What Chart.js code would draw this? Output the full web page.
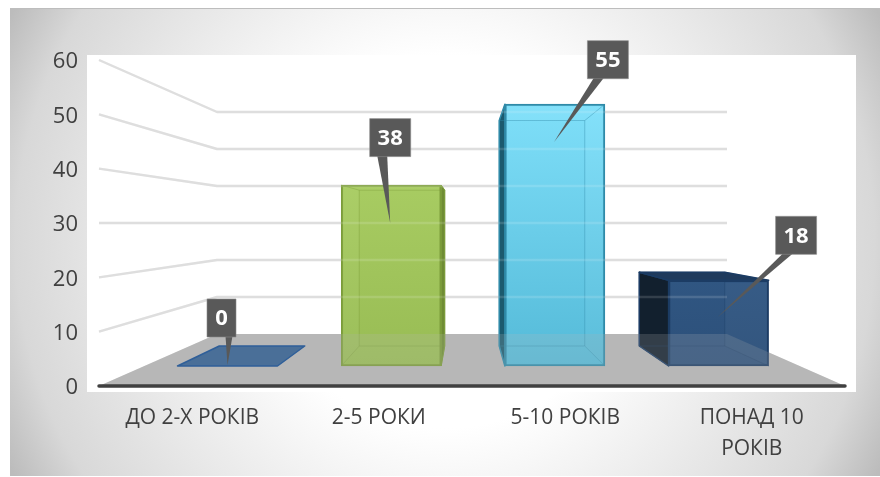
<!DOCTYPE html>
<html lang="uk">
<head>
<meta charset="utf-8">
<style>html,body{margin:0;padding:0;background:#fff}#w{position:relative;width:880px;height:477px}canvas{display:block}</style>
<script src="https://cdn.jsdelivr.net/npm/chart.js@4/dist/chart.umd.js"></script>
</head>
<body>
<div id="w"><canvas id="c" width="880" height="477"></canvas></div>
<script>
const categories = ["ДО 2-Х РОКІВ", "2-5 РОКИ", "5-10 РОКІВ", ["ПОНАД 10", "РОКІВ"]];
const values = [0, 38, 55, 18];
const axisTicks = [0, 10, 20, 30, 40, 50, 60];

// Perspective planes: each hidden axis spans the same chart area but has its own range
const plane = (zero, perUnit, top, bottom) => ({min: -(bottom - zero) / perUnit, max: (zero - top) / perUnit});
const T = 60, B = 386, L = 99, R = 845;
const yFrontFace = plane(366, 4.76, T, B);
const yBackFace = plane(346, 4.10, T, B);
const yWallPlane = plane(334, 3.70, T, B);
const hPlane = (zero, perUnit) => ({min: -(zero - L) / perUnit, max: (R - zero) / perUnit});
const xFrontFace = hPlane(227.5, 163.7);
const xBackFace = hPlane(262, 140);
const xWallPlane = hPlane(217, 510);

const looks = [
  {top: "#4a6f98", bot: "#4a6f98", edge: "#2f5f99", side: "#1d3550", lid: "#4a6f98"},
  {top: "rgba(168,204,98,.97)", bot: "rgba(152,188,84,.97)", edge: "#7b9c3a", side: "#6f8c35", lid: "#93b552"},
  {top: "rgba(128,224,250,.97)", bot: "rgba(84,186,216,.97)", edge: "#2f8aa8", side: "#1c5a6e", lid: "#5cc0dc"},
  {top: "rgba(48,86,130,.97)", bot: "rgba(44,80,122,.97)", edge: "#1c3c64", side: "#12202e", lid: "#1f3a5c"}
];
const callouts = [
  {dx: -6, dy: -48, baseA: 4, baseB: 11, tipDx: 0, tipDy: -1},
  {dx: -1, dy: -47.5, baseA: -13, baseB: -3, tipDx: -1, tipDy: 38},
  {dx: 53, dy: -44.5, baseA: -14, baseB: -4, tipDx: -1, tipDy: 38},
  {dx: 77.5, dy: -45, baseA: -13, baseB: -3, tipDx: -1, tipDy: 37}
];

function poly(ctx, pts, fill, stroke, lw) {
  ctx.beginPath();
  ctx.lineJoin = "round";
  pts.forEach((p, i) => i ? ctx.lineTo(p[0], p[1]) : ctx.moveTo(p[0], p[1]));
  ctx.closePath();
  if (fill) { ctx.fillStyle = fill; ctx.fill(); }
  if (stroke) { ctx.strokeStyle = stroke; ctx.lineWidth = lw || 1; ctx.stroke(); }
}
function gridLines(chart, color) {
  const ctx = chart.ctx, s = chart.scales, a = chart.chartArea;
  ctx.save(); ctx.strokeStyle = color; ctx.lineWidth = 2.4; ctx.lineJoin = "round";
  axisTicks.filter(v => v > 0).forEach(v => {
    ctx.beginPath();
    ctx.moveTo(a.left, s.y.getPixelForValue(v));
    ctx.lineTo(s.xWall.getPixelForValue(0), s.yWall.getPixelForValue(v));
    ctx.lineTo(s.xWall.getPixelForValue(1), s.yWall.getPixelForValue(v));
    ctx.stroke();
  });
  ctx.restore();
}
function floorPts(chart) {
  const s = chart.scales, a = chart.chartArea, y0 = s.y.getPixelForValue(0), yb = s.yWall.getPixelForValue(0);
  return [[a.left, y0], [s.xWall.getPixelForValue(0), yb], [s.xWall.getPixelForValue(1), yb], [a.right, y0]];
}
function boxGeom(chart, i) {
  const s = chart.scales, el = chart.getDatasetMeta(0).data[i], v = values[i];
  const hw = el.width / 2, bx = s.xBarBack.getPixelForValue(i), bhw = hw * 140 / 163.7;
  const by0 = s.yBarBack.getPixelForValue(0), byT = s.yBarBack.getPixelForValue(v);
  return {fl: el.x - hw, fr: el.x + hw, ft: el.y, fb: el.base, bl: bx - bhw, br: bx + bhw, bt: byT, bb: by0, x: el.x, y: el.y};
}

const scene = {
  id: "scene",
  beforeDraw(chart) {
    const ctx = chart.ctx;
    ctx.save();
    const g = ctx.createRadialGradient(445, 242, 0, 445, 242, 490);
    g.addColorStop(0, "#ffffff"); g.addColorStop(.38, "#ffffff"); g.addColorStop(.877, "#d8d8d8"); g.addColorStop(1, "#bcbcbc");
    ctx.fillStyle = g; ctx.fillRect(10, 8, 870, 468);
    ctx.fillStyle = "#bdbdbd"; ctx.fillRect(10, 8, 870, 1);
    ctx.fillStyle = "#ffffff"; ctx.fillRect(87, 55, 769, 337);
    ctx.restore();
  },
  beforeDatasetsDraw(chart) {
    const ctx = chart.ctx;
    ctx.save();
    gridLines(chart, "#d9d9d9");
    poly(ctx, floorPts(chart), "#b7b7b7");
    values.forEach((v, i) => {
      const q = boxGeom(chart, i), c = looks[i];
      if (v > 0) {
        poly(ctx, [[q.bl, q.bt], [q.br, q.bt], [q.br, q.bb], [q.bl, q.bb]], c.bot);
        poly(ctx, [[q.fl, q.fb], [q.fr, q.fb], [q.br, q.bb], [q.bl, q.bb]], c.bot);
        if (q.bl < q.fl) poly(ctx, [[q.bl, q.bt], [q.fl, q.ft], [q.fl, q.fb], [q.bl, q.bb]], c.side, c.edge, 1.5);
        if (q.br > q.fr) poly(ctx, [[q.fr, q.ft], [q.br, q.bt], [q.br, q.bb], [q.fr, q.fb]], c.side, c.edge, 1);
        if (q.bt < q.ft) poly(ctx, [[q.bl, q.bt], [q.br, q.bt], [q.fr, q.ft], [q.fl, q.ft]], c.lid, c.edge, 1.5);
      }
    });
    ctx.restore();
  },
  afterDatasetsDraw(chart) {
    const ctx = chart.ctx, s = chart.scales;
    ctx.save();
    values.forEach((v, i) => {
      const q = boxGeom(chart, i), c = looks[i];
      if (v > 0) {
        // inner edges seen through the glass faces
        ctx.globalAlpha = .4;
        poly(ctx, [[q.bl, q.bt], [q.br, q.bt], [q.br, q.bb], [q.bl, q.bb]], null, c.edge, 1);
        ctx.beginPath();
        [[q.fl, q.ft, q.bl, q.bt], [q.fr, q.ft, q.br, q.bt], [q.fl, q.fb, q.bl, q.bb], [q.fr, q.fb, q.br, q.bb]].forEach(e => {
          ctx.moveTo(e[0], e[1]); ctx.lineTo(e[2], e[3]);
        });
        ctx.strokeStyle = c.edge; ctx.lineWidth = 1; ctx.stroke();
        ctx.globalAlpha = 1;
      }
    });
    // floor and wall lines glimmering through the translucent columns
    ctx.globalAlpha = .2;
    poly(ctx, floorPts(chart), "#b7b7b7");
    ctx.globalAlpha = .14;
    gridLines(chart, "#ffffff");
    ctx.globalAlpha = 1;
    gridLines;
    // a zero-height column is only its flat lid on the floor
    values.forEach((v, i) => {
      if (v === 0) {
        const q = boxGeom(chart, i), c = looks[i];
        poly(ctx, [[q.fl, q.fb], [q.fr, q.fb], [q.br, q.bb], [q.bl, q.bb]], c.top, c.edge, 1.5);
      }
    });
    // front axis line
    const y0 = s.y.getPixelForValue(0);
    ctx.strokeStyle = "#404040"; ctx.lineWidth = 3.5; ctx.lineCap = "round";
    ctx.beginPath(); ctx.moveTo(chart.chartArea.left, y0); ctx.lineTo(chart.chartArea.right, y0); ctx.stroke();
    // callouts
    ctx.font = "bold 22px 'Open Sans'"; ctx.textAlign = "center"; ctx.textBaseline = "middle";
    values.forEach((v, i) => {
      const q = boxGeom(chart, i), k = callouts[i], t = String(v);
      const w = Math.round(ctx.measureText(t).width + 16), h = 38;
      const cx = q.x + k.dx, cy = q.y + k.dy;
      const bt = cy + h / 2;
      ctx.lineCap = "butt";
      poly(ctx, [[cx + k.baseA, bt - 1], [cx + k.baseB, bt - 1], [q.x + k.tipDx, q.y + k.tipDy]], "#595959");
      ctx.fillStyle = "#595959"; ctx.fillRect(cx - w / 2, cy - h / 2, w, h);
      ctx.strokeStyle = "#8c8c8c"; ctx.lineWidth = .6; ctx.strokeRect(cx - w / 2, cy - h / 2, w, h);
      ctx.fillStyle = "#ffffff"; ctx.fillText(t, cx, cy + 1);
    });
    ctx.restore();
  }
};

const hiddenLinear = (r) => ({type: "linear", display: false, offset: false, bounds: "data", min: r.min, max: r.max, grid: {display: false}});

new Chart(document.getElementById("c"), {
  type: "bar",
  data: {
    labels: categories,
    datasets: [{
      data: values.map((v, i) => ({x: i, y: v})),
      xAxisID: "xBarFront",
      yAxisID: "yBarFront",
      barThickness: 100,
      borderWidth: 2,
      borderSkipped: false,
      borderColor: ctx => looks[ctx.dataIndex].edge,
      backgroundColor: ctx => {
        const a = ctx.chart.chartArea, c = looks[ctx.dataIndex];
        if (!a) return c.top;
        const q = ctx.chart.scales.yBarFront;
        const g = ctx.chart.ctx.createLinearGradient(0, q.getPixelForValue(values[ctx.dataIndex]), 0, q.getPixelForValue(0));
        g.addColorStop(0, c.top); g.addColorStop(1, c.bot);
        return g;
      }
    }]
  },
  options: {
    responsive: false,
    animation: false,
    events: [],
    layout: {padding: {left: 0, right: 35, top: 60, bottom: 0}},
    plugins: {legend: {display: false}, tooltip: {enabled: false}},
    scales: {
      x: {
        type: "category", labels: categories, offset: true, position: "bottom",
        grid: {display: false, drawTicks: false}, border: {display: false},
        afterFit: s => { s.height = 91; },
        ticks: {color: "#404040", font: {family: "'Open Sans'", size: 21, lineHeight: 1.45}, padding: 17, maxRotation: 0, autoSkip: false}
      },
      y: {
        type: "linear", min: 0, max: 60, position: "left",
        grid: {display: false, drawTicks: false}, border: {display: false},
        afterFit: s => { s.width = 99; },
        afterBuildTicks: s => { s.ticks = axisTicks.map(v => ({value: v})); },
        ticks: {color: "#404040", font: {family: "'Open Sans'", size: 22}, padding: 21, labelOffset: 2}
      },
      xBarFront: hiddenLinear(xFrontFace),
      xBarBack: hiddenLinear(xBackFace),
      xWall: hiddenLinear(xWallPlane),
      yBarFront: hiddenLinear(yFrontFace),
      yBarBack: hiddenLinear(yBackFace),
      yWall: hiddenLinear(yWallPlane)
    }
  },
  plugins: [scene]
});
</script>
</body>
</html>
